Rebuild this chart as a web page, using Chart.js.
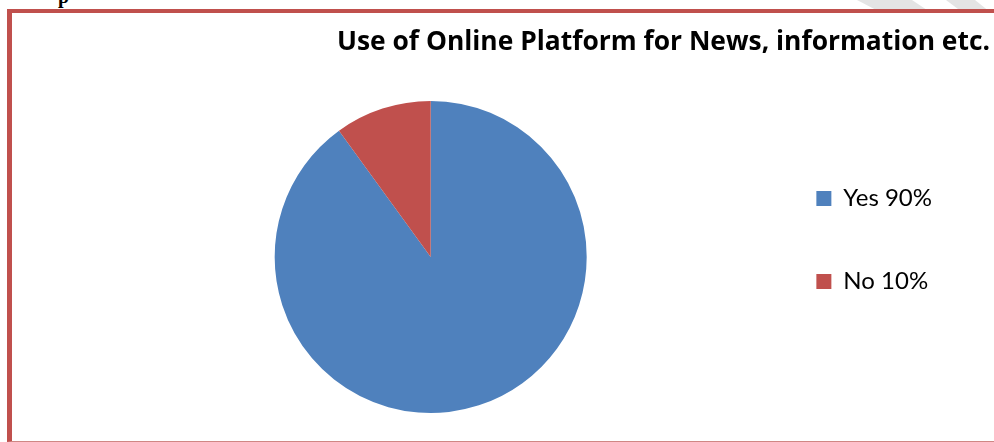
<!DOCTYPE html>
<html>
<head>
<meta charset="utf-8">
<script src="https://cdn.jsdelivr.net/npm/chart.js@4.4.1/dist/chart.umd.min.js"></script>
<style>
  html, body { margin: 0; padding: 0; background: #fff; }
  body { width: 994px; height: 442px; position: relative; overflow: hidden; }
  .mark { position: absolute; background: #e4e4e4; }
  .frame {
    position: absolute; left: 7px; top: 9px; width: 1000px; height: 428px;
    border-left: 5px solid #c0504d; border-top: 4px solid #c0504d; border-bottom: 1px solid #d08784;
    background: #fff;
  }
  .frag { position: absolute; left: 58px; top: -15px; font: bold 20px "Liberation Serif", serif; color: #000; }
  #wrap { position: absolute; left: 0; top: 0; width: 982px; height: 428px; }
</style>
</head>
<body>
<div class="mark" style="left:0;top:0;width:994px;height:12px;clip-path:polygon(857px 0,912px 0,930px 12px,880px 12px);"></div>
<div class="mark" style="left:0;top:0;width:994px;height:12px;clip-path:polygon(946px 0,975px 0,990px 12px,962px 12px);"></div>
<div class="frag">p</div>
<div class="frame">
  <div id="wrap"><canvas id="chart" width="982" height="428"></canvas></div>
</div>
<script>
// Survey answers: does the respondent use online platforms for news?
const categories = ['Yes', 'No'];
const shares = [90, 10];
const sliceColors = ['#4f81bd', '#c0504d'];
const chartTitle = 'Use of Online Platform for News, information etc.';

const legendLabels = categories.map((c, i) => `${c} ${shares[i]}%`);

// Stretch the title box across the full frame so the heading sits flush right.
const titleSpan = {
  id: 'titleSpan',
  afterLayout(chart) {
    const t = chart.titleBlock;
    if (t) { t.left = 0; t.right = 978; }
  }
};

new Chart(document.getElementById('chart'), {
  type: 'pie',
  data: {
    labels: legendLabels,
    datasets: [{
      data: shares,
      backgroundColor: sliceColors,
      borderWidth: 0
    }]
  },
  options: {
    responsive: false,
    animation: false,
    events: [],
    layout: { padding: { left: 92, right: 52, top: 0, bottom: 28 } },
    plugins: {
      tooltip: { enabled: false },
      title: {
        display: true,
        text: chartTitle,
        align: 'end',
        color: '#000',
        font: { family: 'Open Sans', size: 26.4, weight: 'bold', lineHeight: 1.2 },
        padding: { top: 13.2, bottom: 43.1 }
      },
      legend: {
        position: 'right',
        align: 'start',
        fullSize: false,
        title: { display: true, text: '', font: { size: 10, lineHeight: 1.2 }, padding: 7.25 },
        labels: {
          boxWidth: 15,
          boxHeight: 15,
          padding: 59,
          color: '#000',
          font: { family: 'Lato', size: 24 }
        }
      }
    }
  },
  plugins: [titleSpan]
});
</script>
</body>
</html>
